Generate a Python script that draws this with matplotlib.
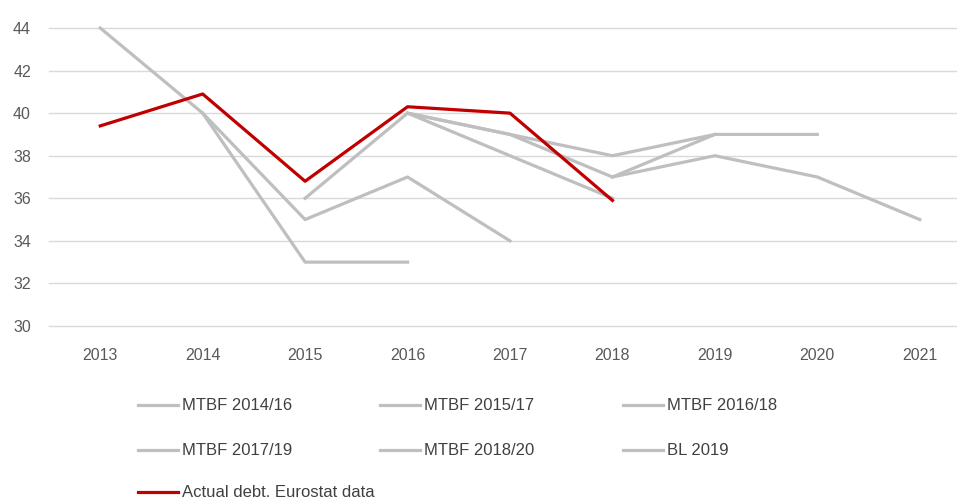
import matplotlib
matplotlib.use('Agg')
import matplotlib.pyplot as plt
from matplotlib.lines import Line2D
import numpy as np

plt.rcParams['font.family'] = ['Liberation Sans', 'DejaVu Sans']

# 数据
years = ['2013', '2014', '2015', '2016', '2017', '2018', '2019', '2020', '2021']
mtbf_14_16 = [44, 40, 33, 33, None, None, None, None, None]
mtbf_15_17 = [None, 40, 35, 37, 34, None, None, None, None]
mtbf_16_18 = [None, None, 36, 40, 38, 36, None, None, None]
mtbf_17_19 = [None, None, None, 40, 39, 38, 39, 39, None]
mtbf_18_20 = [None, None, None, 40, 39, 37, 39, None, None]
bl_2019 = [None, None, None, None, None, 37, 38, 37, 35]
actual = [39.4, 40.9, 36.8, 40.3, 40.0, 35.9, None, None, None]

labels = ['MTBF 2014/16', 'MTBF 2015/17', 'MTBF 2016/18',
          'MTBF 2017/19', 'MTBF 2018/20', 'BL 2019', 'Actual debt. Eurostat data']
series = [mtbf_14_16, mtbf_15_17, mtbf_16_18, mtbf_17_19, mtbf_18_20, bl_2019, actual]

gray = '#BFBFBF'
red = '#C00000'

W, H = 957, 498
fig = plt.figure(figsize=(W / 100, H / 100), dpi=100)
ax = fig.add_axes([49 / W, 1 - 326 / H, (971 - 49) / W, (326 - 28) / H])

x = np.arange(len(years))
colors = []
for i, (s, lab) in enumerate(zip(series, labels)):
    y = np.array([np.nan if v is None else v for v in s], dtype=float)
    c = red if i == len(series) - 1 else gray
    colors.append(c)
    ax.plot(x, y, color=c, linewidth=2.3, zorder=3 if c == red else 2, clip_on=False)

ax.set_xlim(-0.5, len(years) - 0.5)
ax.set_ylim(30, 44)
ax.set_yticks(np.arange(30, 45, 2))
ax.set_xticks(x)
ax.set_xticklabels(years)
ax.grid(axis='y', color='#D9D9D9', linewidth=1)
for gl in ax.get_ygridlines():
    gl.set_clip_on(False)   # 边缘网格线不要被裁掉
ax.set_axisbelow(True)
for sp in ax.spines.values():
    sp.set_visible(False)
ax.tick_params(length=0, labelsize=11.5, colors='#595959')
ax.tick_params(axis='x', pad=16)
ax.tick_params(axis='y', pad=13)

# 图例（手动排成三列）
col_x = [138, 380, 623]
row_y = [405, 450, 492]
for i, lab in enumerate(labels):
    r, c = divmod(i, 3)
    px, py = col_x[c], row_y[r]
    fig.add_artist(Line2D([px / W, (px + 40) / W], [1 - py / H, 1 - py / H],
                          transform=fig.transFigure, color=colors[i], linewidth=2.3))
    fig.text((px + 44) / W, 1 - py / H, lab, fontsize=12, color='#404040', va='center')

fig.savefig('out.png', dpi=100)
